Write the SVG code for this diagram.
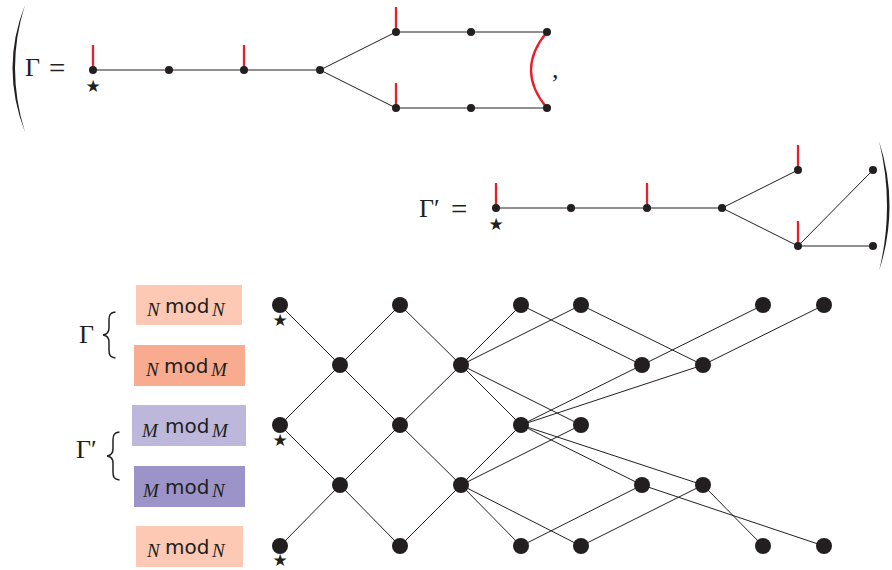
<svg xmlns="http://www.w3.org/2000/svg" width="892" height="570" viewBox="0 0 892 570">
<style>
.e{stroke:#231F20;stroke-width:1;fill:none}
.r{stroke:#E8202A;stroke-width:2.3;fill:none}
.n{fill:#231F20}
.m{font-family:"Liberation Serif",serif;fill:#231F20}
.sub{font-family:"Liberation Serif",serif;font-style:italic;font-size:19px;fill:#231F20}
.mod{font-family:"DejaVu Sans",sans-serif;font-size:20px;fill:#231F20}
.st{font-family:"DejaVu Sans",sans-serif;font-size:17px;fill:#231F20;text-anchor:middle}
.br{stroke:#231F20;stroke-width:1.5;fill:none}
</style>
<rect width="892" height="570" fill="#ffffff"/>

<!-- big parentheses -->
<path d="M25,5 Q0,68 25,132 Q5,68 25,5 Z" fill="#231F20"/>
<path d="M879,141 Q900,206 879,271 Q895,206 879,141 Z" fill="#231F20"/>

<!-- Gamma graph -->
<g id="gamma">
<text class="m" x="25" y="76" font-size="26">Γ</text>
<text class="m" x="49" y="77.5" font-size="29">=</text>
<g class="e">
<line x1="93" y1="70" x2="320" y2="70"/>
<line x1="320" y1="70" x2="396" y2="32"/>
<line x1="320" y1="70" x2="396" y2="108"/>
<line x1="396" y1="32" x2="547" y2="32"/>
<line x1="396" y1="108" x2="547" y2="108"/>
</g>
<g class="r">
<line x1="93" y1="45" x2="93" y2="70"/>
<line x1="244" y1="45" x2="244" y2="70"/>
<line x1="396" y1="7" x2="396" y2="32"/>
<line x1="396" y1="83" x2="396" y2="108"/>
<path d="M547,32 Q515,70 547,108"/>
</g>
<g class="n">
<circle cx="93" cy="70" r="4"/><circle cx="169" cy="70" r="4"/><circle cx="244" cy="70" r="4"/><circle cx="320" cy="70" r="4"/>
<circle cx="396" cy="32" r="4"/><circle cx="471" cy="32" r="4"/><circle cx="547" cy="32" r="4"/>
<circle cx="396" cy="108" r="4"/><circle cx="471" cy="108" r="4"/><circle cx="547" cy="108" r="4"/>
</g>
<text class="st" x="93" y="92">★</text>
<text class="m" x="552" y="78" font-size="26">,</text>
</g>

<!-- Gamma' graph -->
<g id="gammaprime">
<text class="m" x="419" y="216.5" font-size="26">Γ′</text>
<text class="m" x="451" y="218.5" font-size="29">=</text>
<g class="e">
<line x1="496" y1="208" x2="722" y2="208"/>
<line x1="722" y1="208" x2="798" y2="170"/>
<line x1="722" y1="208" x2="798" y2="246"/>
<line x1="798" y1="246" x2="873" y2="170"/>
<line x1="798" y1="246" x2="873" y2="246"/>
</g>
<g class="r">
<line x1="496" y1="183" x2="496" y2="208"/>
<line x1="647" y1="183" x2="647" y2="208"/>
<line x1="798" y1="145" x2="798" y2="170"/>
<line x1="798" y1="221" x2="798" y2="246"/>
</g>
<g class="n">
<circle cx="496" cy="208" r="4"/><circle cx="571" cy="208" r="4"/><circle cx="647" cy="208" r="4"/><circle cx="722" cy="208" r="4"/>
<circle cx="798" cy="170" r="4"/><circle cx="798" cy="246" r="4"/><circle cx="873" cy="170" r="4"/><circle cx="873" cy="246" r="4"/>
</g>
<text class="st" x="496" y="229.5">★</text>
</g>

<!-- left labels -->
<g id="label-gamma">
<text class="m" x="79" y="343" font-size="26">Γ</text>
<path class="br" d="M115.5,312 C110,312.5 109,315 109,320 L109,328 C109,332 107,334.5 103,335 C107,335.5 109,338 109,342 L109,350 C109,355 110,357.5 115.5,358"/>
</g>
<g id="label-gammaprime">
<text class="m" x="76" y="458" font-size="26">Γ′</text>
<path class="br" d="M119.5,432 C114,432.5 113,435 113,440 L113,449 C113,453 111,455.5 107,456 C111,456.5 113,459 113,463 L113,472 C113,477 114,479.5 119.5,480"/>
</g>

<g id="box1">
<rect x="136" y="285" width="106" height="40" fill="#FDC9B4"/>
<text class="sub" x="147" y="316">N</text><text class="mod" x="165" y="312.5">mod</text><text class="sub" x="212" y="316">N</text>
</g>
<g id="box2">
<rect x="134" y="345" width="111" height="41" fill="#F9AB8F"/>
<text class="sub" x="146" y="376">N</text><text class="mod" x="164" y="372.5">mod</text><text class="sub" x="211" y="376">M</text>
</g>
<g id="box3">
<rect x="132" y="405" width="114" height="41" fill="#BCB7DB"/>
<text class="sub" x="142" y="436.5">M</text><text class="mod" x="165" y="433">mod</text><text class="sub" x="212" y="436.5">M</text>
</g>
<g id="box4">
<rect x="134" y="466" width="111" height="41" fill="#9C94C8"/>
<text class="sub" x="143" y="497">M</text><text class="mod" x="165" y="493.5">mod</text><text class="sub" x="212" y="497">N</text>
</g>
<g id="box5">
<rect x="136" y="526" width="107" height="41" fill="#FDC9B4"/>
<text class="sub" x="147" y="557">N</text><text class="mod" x="165" y="553.5">mod</text><text class="sub" x="212" y="557">N</text>
</g>

<!-- bottom graph connectors -->
<g id="connectors" class="e">
<line x1="280" y1="305" x2="340" y2="365"/>
<line x1="340" y1="365" x2="400" y2="305"/>
<line x1="400" y1="305" x2="461" y2="365"/>
<line x1="280" y1="425" x2="340" y2="365"/>
<line x1="340" y1="365" x2="400" y2="425"/>
<line x1="400" y1="425" x2="461" y2="365"/>
<line x1="280" y1="425" x2="340" y2="485"/>
<line x1="280" y1="546" x2="340" y2="485"/>
<line x1="340" y1="485" x2="400" y2="425"/>
<line x1="340" y1="485" x2="400" y2="546"/>
<line x1="400" y1="425" x2="461" y2="485"/>
<line x1="400" y1="546" x2="461" y2="485"/>
<line x1="461" y1="365" x2="521" y2="305"/>
<line x1="461" y1="365" x2="581" y2="305"/>
<line x1="461" y1="365" x2="521" y2="425"/>
<line x1="461" y1="365" x2="581" y2="425"/>
<line x1="461" y1="485" x2="521" y2="425"/>
<line x1="461" y1="485" x2="581" y2="425"/>
<line x1="461" y1="485" x2="521" y2="546"/>
<line x1="461" y1="485" x2="581" y2="546"/>
<line x1="521" y1="305" x2="642" y2="365"/>
<line x1="581" y1="305" x2="703" y2="365"/>
<line x1="642" y1="365" x2="763" y2="305"/>
<line x1="703" y1="365" x2="824" y2="305"/>
<line x1="521" y1="425" x2="642" y2="365"/>
<line x1="521" y1="425" x2="703" y2="365"/>
<line x1="521" y1="425" x2="642" y2="485"/>
<line x1="521" y1="425" x2="703" y2="485"/>
<line x1="521" y1="546" x2="642" y2="485"/>
<line x1="581" y1="546" x2="703" y2="485"/>
<line x1="642" y1="485" x2="824" y2="546"/>
<line x1="703" y1="485" x2="763" y2="546"/>
</g>

<!-- bottom graph nodes -->
<g id="nodes" class="n">
<g id="a0"><circle cx="280" cy="305" r="8"/><text class="st" x="280" y="326">★</text></g>
<g id="a1"><circle cx="400" cy="305" r="8"/></g>
<g id="a2"><circle cx="521" cy="305" r="8"/></g>
<g id="a3"><circle cx="581" cy="305" r="8"/></g>
<g id="a4"><circle cx="763" cy="305" r="8"/></g>
<g id="a5"><circle cx="824" cy="305" r="8"/></g>
<g id="b0"><circle cx="340" cy="365" r="8"/></g>
<g id="b1"><circle cx="461" cy="365" r="8"/></g>
<g id="b2"><circle cx="642" cy="365" r="8"/></g>
<g id="b3"><circle cx="703" cy="365" r="8"/></g>
<g id="c0"><circle cx="280" cy="425" r="8"/><text class="st" x="280" y="445.5">★</text></g>
<g id="c1"><circle cx="400" cy="425" r="8"/></g>
<g id="c2"><circle cx="521" cy="425" r="8"/></g>
<g id="c3"><circle cx="581" cy="425" r="8"/></g>
<g id="d0"><circle cx="340" cy="485" r="8"/></g>
<g id="d1"><circle cx="461" cy="485" r="8"/></g>
<g id="d2"><circle cx="642" cy="485" r="8"/></g>
<g id="d3"><circle cx="703" cy="485" r="8"/></g>
<g id="e0"><circle cx="280" cy="546" r="8"/><text class="st" x="280" y="566">★</text></g>
<g id="e1"><circle cx="400" cy="546" r="8"/></g>
<g id="e2"><circle cx="521" cy="546" r="8"/></g>
<g id="e3"><circle cx="581" cy="546" r="8"/></g>
<g id="e4"><circle cx="763" cy="546" r="8"/></g>
<g id="e5"><circle cx="824" cy="546" r="8"/></g>
</g>
</svg>
